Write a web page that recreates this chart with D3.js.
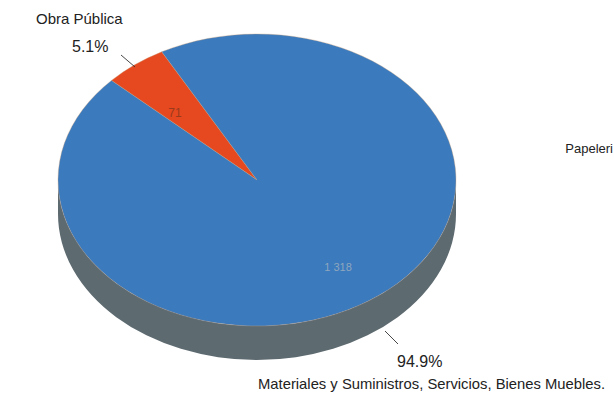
<!DOCTYPE html>
<html><head><meta charset="utf-8">
<script src="https://cdn.jsdelivr.net/npm/d3@7"></script>
<style>html,body{margin:0;padding:0;background:#fff;overflow:hidden}svg{display:block}</style>
</head><body>
<svg id="c" width="614" height="396"></svg>
<script>
const categories = ["Obra Pública", "Materiales y Suministros, Servicios, Bienes Muebles."];
const values = [71, 1318];
const percentLabels = ["5.1%", "94.9%"];
const valueLabels = ["71", "1 318"];
const otherLabel = "Papeleri";
const colors = ["#e6491f", "#3a7abd"];

const svg = d3.select("#c");
const cx = 257, cy = 180, rx = 199, ry = 146, depth = 34;
const deg = Math.PI / 180;

const pie = d3.pie().sort(null).value(d => d).startAngle(-47 * deg).endAngle(313 * deg);
const arcs = pie(values);

const sx = d3.scaleLinear().domain([-1, 1]).range([cx - rx, cx + rx]);
const sy = d3.scaleLinear().domain([-1, 1]).range([cy - ry, cy + ry]);
const px = a => sx(Math.sin(a));
const py = a => sy(-Math.cos(a));

// side (front half)
const sidePath = `M${sx(1)},${cy} A${rx},${ry} 0 0 1 ${sx(-1)},${cy} L${sx(-1)},${cy + depth} A${rx},${ry} 0 0 0 ${sx(1)},${cy + depth} Z`;
svg.append("path").attr("d", sidePath).attr("fill", "#5d6a70");

// top faces
arcs.forEach((a, i) => {
  const large = (a.endAngle - a.startAngle) > Math.PI ? 1 : 0;
  const d = `M${cx},${cy} L${px(a.startAngle)},${py(a.startAngle)} A${rx},${ry} 0 ${large} 1 ${px(a.endAngle)},${py(a.endAngle)} Z`;
  svg.append("path").attr("d", d).attr("fill", colors[i])
    .attr("stroke", "#c9a07a").attr("stroke-width", 0.6).attr("stroke-opacity", 0.6);
});

const font = "Liberation Sans, Arial, sans-serif";
// value labels inside slices
svg.append("text").attr("x", 175).attr("y", 117).attr("text-anchor", "middle")
  .attr("font-family", font).attr("font-size", 12)
  .attr("fill", "#9a3a1c").text(valueLabels[0]);
svg.append("text").attr("x", 338).attr("y", 271).attr("text-anchor", "middle")
  .attr("font-family", font).attr("font-size", 11)
  .attr("fill", "#8fa6bd").text(valueLabels[1]);

// leader lines
const line = (x1, y1, x2, y2) => svg.append("line").attr("x1", x1).attr("y1", y1).attr("x2", x2).attr("y2", y2)
  .attr("stroke", "#333").attr("stroke-width", 0.9);
line(121, 55, 135, 67);
line(385, 331, 398, 344);

const txt = (x, y, s, size, anchor) => svg.append("text").attr("x", x).attr("y", y).attr("text-anchor", anchor || "start")
  .attr("font-family", font).attr("font-size", size).attr("fill", "#222").text(s);
txt(36, 24, categories[0], 15);
txt(72, 52, percentLabels[0], 16);
txt(397, 367, percentLabels[1], 16);
txt(258, 389, categories[1], 14.8);
txt(613, 153, otherLabel, 13, "end");
</script>
</body></html>
